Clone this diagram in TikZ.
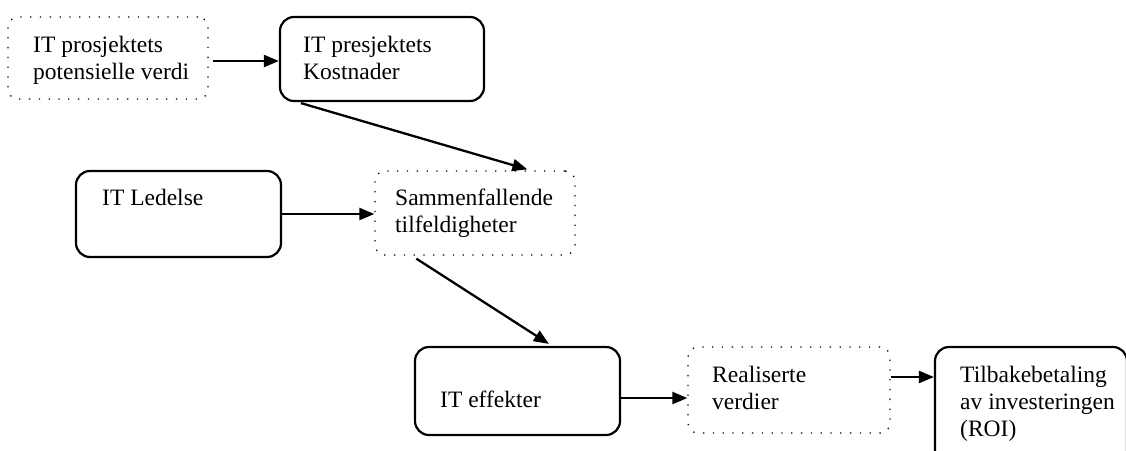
\documentclass[tikz,border=0pt]{standalone}
\usepackage{fontspec}
\setmainfont{Liberation Serif}
\usetikzlibrary{arrows.meta,calc}
\begin{document}
\begin{tikzpicture}[x=1pt,y=-1pt,
  solidbox/.style={draw,line width=2.2pt,rounded corners=14pt,inner sep=0pt},
  dotbox/.style={draw,line width=1.3pt,dash pattern=on 1.3pt off 8.5pt,rounded corners=10pt,inner sep=0pt},
  lbl/.style={anchor=base west,inner sep=0pt,align=left,font=\fontsize{23.5}{27}\selectfont},
  arr/.style={line width=2.3pt,-{Triangle[length=15pt,width=12pt]}}]
\useasboundingbox (0,0) rectangle (1126,450);
\clip (0,0) rectangle (1126,450);

% boxes
\node[dotbox,minimum width=200pt,minimum height=82pt] (b1) at (108,58) {};
\node[solidbox,minimum width=204pt,minimum height=84pt] (b2) at (382,59) {};
\node[solidbox,minimum width=205pt,minimum height=86pt] (b3) at (178.5,214) {};
\node[dotbox,minimum width=200pt,minimum height=84pt] (b4) at (475,213) {};
\node[solidbox,minimum width=205pt,minimum height=88pt] (b5) at (517.5,391) {};
\node[dotbox,minimum width=202pt,minimum height=86pt] (b6) at (789,390) {};
\node[solidbox,minimum width=192pt,minimum height=118pt] (b7) at (1031,406) {};

% labels
\node[lbl] (t1a) at (33,52) {IT prosjektets};
\node[lbl] (t1b) at (33,79) {potensielle verdi};
\node[lbl] (t2a) at (303,52) {IT presjektets};
\node[lbl] (t2b) at (303,79) {Kostnader};
\node[lbl] (t3) at (102,205) {IT Ledelse};
\node[lbl] (t4a) at (395,205) {Sammenfallende};
\node[lbl] (t4b) at (395,232) {tilfeldigheter};
\node[lbl] (t5) at (440,407) {IT effekter};
\node[lbl] (t6a) at (712,382) {Realiserte};
\node[lbl] (t6b) at (712,409) {verdier};
\node[lbl] (t7a) at (960,382) {Tilbakebetaling};
\node[lbl] (t7b) at (960,409) {av investeringen};
\node[lbl] (t7c) at (960,436) {(ROI)};

% connectors
\draw[arr] ($(b1.east)+(4,3)$) -- ($(b2.west)+(0,2)$);
\draw[arr] ($(b2.south west)+(22,1)$) -- ($(b4.north west)+(153,-1)$);
\draw[arr] (b3.east) -- (b3.east -| b4.west);
\draw[arr] ($(b4.south west)+(42,3)$) -- ($(b5.north west)+(135,-2)$);
\draw[arr] ($(b5.east)+(0,7)$) coordinate (c5) -- (c5 -| b6.west);
\draw[arr] ($(b6.east)+(0,-13)$) coordinate (c6) -- (c6 -| b7.west);
\end{tikzpicture}
\end{document}
